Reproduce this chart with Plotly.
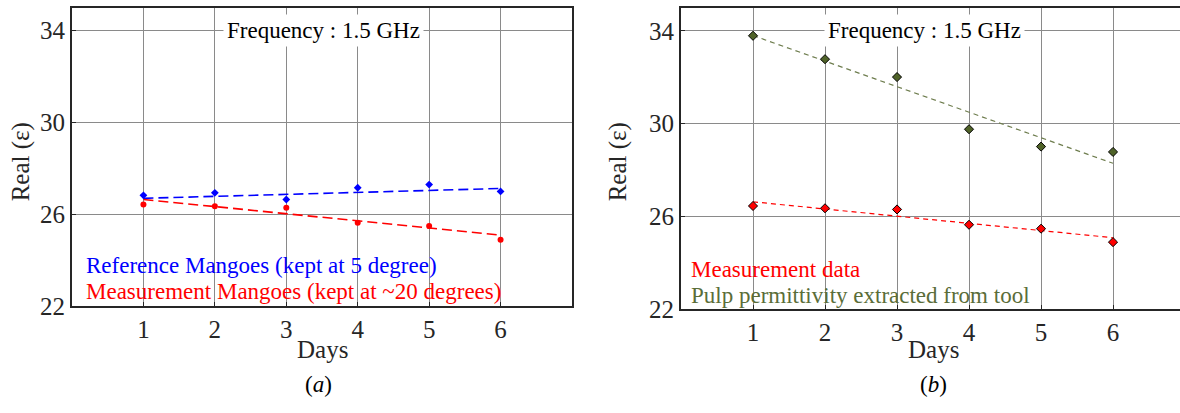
import plotly.graph_objects as go

# ---------------- data ----------------
days = [1, 2, 3, 4, 5, 6]
trend_days = [1, 6]
tick_days = [1, 2, 3, 4, 5, 6]
tick_real = [22, 26, 30, 34]

# panel (a)
ref_a = [26.83, 26.94, 26.65, 27.16, 27.30, 27.00]
meas_a = [26.43, 26.35, 26.29, 25.64, 25.50, 24.90]
ref_a_trend = [26.70, 27.13]
meas_a_trend = [26.65, 25.10]

# panel (b)
meas_b = [26.45, 26.35, 26.30, 25.64, 25.47, 24.89]
pulp_b = [33.79, 32.78, 32.01, 29.76, 29.01, 28.78]
meas_b_trend = [26.63, 25.08]
pulp_b_trend = [33.80, 28.29]

legend_a = ["Reference Mangoes (kept at 5 degree)", "Measurement Mangoes (kept at ~20 degrees)"]
legend_b = ["Measurement data", "Pulp permittivity extracted from tool"]
freq_label = "Frequency : 1.5 GHz"

# ---------------- styling ----------------
W, H = 1180, 413
FONT = "Liberation Serif, Times New Roman, serif"
DARK = "#262626"
GRID = "#8a8a8a"
BLUE = "#0000FF"
RED = "#FF0000"
OLIVE = "#4F6228"
OLIVE_TXT = "#5A6D38"
OLIVE_LINE = "#6E7D4E"


def px_x(p):
    return p / W


def px_y(p):
    return 1 - p / H


fig = go.Figure()

# panel (a)
fig.add_trace(go.Scatter(x=trend_days, y=ref_a_trend, mode="lines",
                         line=dict(color=BLUE, width=1.6, dash="10px,5px"),
                         xaxis="x", yaxis="y", showlegend=False))
fig.add_trace(go.Scatter(x=trend_days, y=meas_a_trend, mode="lines",
                         line=dict(color=RED, width=1.6, dash="10px,5px"),
                         xaxis="x", yaxis="y", showlegend=False))
fig.add_trace(go.Scatter(x=days, y=ref_a, mode="markers",
                         marker=dict(symbol="diamond", size=6, color=BLUE),
                         xaxis="x", yaxis="y", showlegend=False))
fig.add_trace(go.Scatter(x=days, y=meas_a, mode="markers",
                         marker=dict(symbol="circle", size=6, color=RED),
                         xaxis="x", yaxis="y", showlegend=False))

# panel (b)
fig.add_trace(go.Scatter(x=trend_days, y=pulp_b_trend, mode="lines",
                         line=dict(color=OLIVE_LINE, width=1.2, dash="5px,4px"),
                         xaxis="x2", yaxis="y2", showlegend=False))
fig.add_trace(go.Scatter(x=trend_days, y=meas_b_trend, mode="lines",
                         line=dict(color=RED, width=1.2, dash="5px,4px"),
                         xaxis="x2", yaxis="y2", showlegend=False))
fig.add_trace(go.Scatter(x=days, y=pulp_b, mode="markers",
                         marker=dict(symbol="diamond", size=7, color=OLIVE,
                                     line=dict(color="black", width=1)),
                         xaxis="x2", yaxis="y2", showlegend=False))
fig.add_trace(go.Scatter(x=days, y=meas_b, mode="markers",
                         marker=dict(symbol="diamond", size=7, color=RED,
                                     line=dict(color="black", width=1)),
                         xaxis="x2", yaxis="y2", showlegend=False))

axis_common = dict(
    showgrid=True, gridcolor=GRID, gridwidth=1,
    showline=True, linecolor=DARK, linewidth=2,
    ticks="inside", ticklen=4, tickcolor=DARK, tickwidth=1,
    tickfont=dict(family=FONT, size=25, color=DARK),
    zeroline=False,
)

fig.update_layout(
    width=W, height=H, autosize=False,
    margin=dict(l=0, r=0, t=0, b=0),
    paper_bgcolor="white", plot_bgcolor="white",
    showlegend=False,
    xaxis=dict(domain=[px_x(72), px_x(572)], range=[0, 7], tickvals=tick_days,
               anchor="y", mirror=True, **axis_common),
    yaxis=dict(domain=[px_y(317), px_y(8)], range=[22, 35], tickvals=tick_real,
               anchor="x", mirror=True, **axis_common),
    xaxis2=dict(domain=[px_x(681), 1.0], range=[0, 6.93], tickvals=tick_days,
                anchor="y2", mirror=True, **axis_common),
    yaxis2=dict(domain=[px_y(320), px_y(8)], range=[22, 35], tickvals=tick_real,
                anchor="x2", mirror=False, **axis_common),
)

# white boxes behind the legend texts (covering the grid)
shapes = [
    dict(type="rect", xref="paper", yref="paper", layer="between",
         x0=px_x(74), x1=px_x(508), y0=px_y(315), y1=px_y(263),
         fillcolor="white", line=dict(width=0)),
    dict(type="rect", xref="paper", yref="paper", layer="between",
         x0=px_x(683), x1=px_x(1046), y0=px_y(318), y1=px_y(267),
         fillcolor="white", line=dict(width=0)),
]
fig.update_layout(shapes=shapes)

ann = []
# frequency labels
ann.append(dict(x=3.52, y=34, xref="x", yref="y", text=freq_label, showarrow=False,
                font=dict(family=FONT, size=23, color="black"),
                bgcolor="white", borderpad=3))
ann.append(dict(x=3.38, y=34, xref="x2", yref="y2", text=freq_label, showarrow=False,
                font=dict(family=FONT, size=23, color="black"),
                bgcolor="white", borderpad=3))
# legend texts
ann.append(dict(x=px_x(84), y=px_y(275), xref="paper", yref="paper", xanchor="left",
                yanchor="middle", text=legend_a[0], showarrow=False,
                font=dict(family=FONT, size=23, color=BLUE)))
ann.append(dict(x=px_x(84), y=px_y(302), xref="paper", yref="paper", xanchor="left",
                yanchor="middle", text=legend_a[1], showarrow=False,
                font=dict(family=FONT, size=23, color=RED)))
ann.append(dict(x=px_x(689), y=px_y(279), xref="paper", yref="paper", xanchor="left",
                yanchor="middle", text=legend_b[0], showarrow=False,
                font=dict(family=FONT, size=23, color=RED)))
ann.append(dict(x=px_x(689), y=px_y(306), xref="paper", yref="paper", xanchor="left",
                yanchor="middle", text=legend_b[1], showarrow=False,
                font=dict(family=FONT, size=23, color=OLIVE_TXT)))
# axis titles
for xref, xc in (("x", 3.5), ("x2", 3.5)):
    ann.append(dict(x=xc, y=px_y(362), xref=xref, yref="paper", text="Days",
                    showarrow=False, yanchor="middle",
                    font=dict(family=FONT, size=25, color=DARK)))
ann.append(dict(x=3.45, y=px_y(398), xref="x", yref="paper", text="(<i>a</i>)",
                showarrow=False, yanchor="middle",
                font=dict(family=FONT, size=23, color="black")))
ann.append(dict(x=3.5, y=px_y(398), xref="x2", yref="paper", text="(<i>b</i>)",
                showarrow=False, yanchor="middle",
                font=dict(family=FONT, size=23, color="black")))
ann.append(dict(x=px_x(21), y=px_y(168), xref="paper", yref="paper", text="Real (ε)",
                showarrow=False, textangle=-90, xanchor="center", yanchor="middle",
                font=dict(family=FONT, size=25, color=DARK)))
ann.append(dict(x=px_x(618), y=px_y(168), xref="paper", yref="paper", text="Real (ε)",
                showarrow=False, textangle=-90, xanchor="center", yanchor="middle",
                font=dict(family=FONT, size=25, color=DARK)))
fig.update_layout(annotations=ann)

fig.write_html("out.html",
               config={"responsive": False, "displayModeBar": False},
               post_script="document.body.style.margin='0';document.body.style.overflow='hidden';")
